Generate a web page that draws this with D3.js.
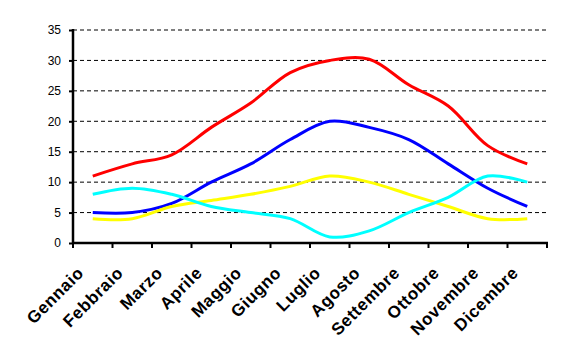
<!DOCTYPE html>
<html lang="it">
<head>
<meta charset="UTF-8">
<title>Temperature mensili</title>
<script src="https://cdn.jsdelivr.net/npm/d3@7"></script>
<style>
    body { margin: 0; background: #fff; }
    svg { display: block; font-family: "Liberation Sans", Arial, sans-serif; }
    .grid line { stroke: #000; stroke-width: 1px; stroke-dasharray: 4,3; }
    .ylab { font-size: 12px; }
    .xlab { font-size: 17px; font-weight: bold; letter-spacing: 0.6px; }
</style>
</head>
<body>
<div id="chart"></div>
<script>
    // data
    const months = ["Gennaio", "Febbraio", "Marzo", "Aprile", "Maggio", "Giugno",
                    "Luglio", "Agosto", "Settembre", "Ottobre", "Novembre", "Dicembre"];
    const redValues    = [11, 13, 14.5, 19, 23, 28, 30, 30.2, 26, 22.5, 16, 13];
    const blueValues   = [5, 5, 6.5, 10, 13, 17, 20, 19, 17, 13, 9, 6];
    const yellowValues = [4, 4, 6, 7, 8, 9.3, 11, 10, 8, 6, 4, 4];
    const cyanValues   = [8, 9, 8, 6, 5, 4, 1, 2, 5, 7.5, 11, 10];
    const yTicks = [0, 5, 10, 15, 20, 25, 30, 35];

    const series = [
        { values: redValues, color: "#ff0000" },
        { values: blueValues, color: "#0000ff" },
        { values: yellowValues, color: "#ffff00" },
        { values: cyanValues, color: "#00ffff" }
    ];

    const width = 563, height = 362;
    const plotLeft = 73, plotRight = 547, plotTop = 30, plotBottom = 243;

    const svg = d3.select("#chart").append("svg")
        .attr("width", width)
        .attr("height", height);

    const x = d3.scaleBand().domain(months).range([plotLeft, plotRight]);
    const y = d3.scaleLinear().domain([0, 35]).range([plotBottom, plotTop]);
    const cx = m => x(m) + x.bandwidth() / 2;

    // dashed gridlines
    svg.append("g").attr("class", "grid")
        .selectAll("line")
        .data(yTicks.filter(d => d > 0))
        .enter().append("line")
        .attr("x1", plotLeft).attr("x2", plotRight)
        .attr("y1", d => y(d)).attr("y2", d => y(d));

    // y axis
    const yAxis = svg.append("g")
        .attr("transform", `translate(${plotLeft},0)`)
        .call(d3.axisLeft(y).tickValues(yTicks).tickSize(4).tickPadding(8));
    yAxis.select(".domain").attr("stroke", "#000").attr("stroke-width", 2.5)
        .attr("d", `M0,${plotTop - 1}V${plotBottom + 1}`);
    yAxis.selectAll(".tick line").attr("stroke-width", 2);
    yAxis.selectAll(".tick text").attr("class", "ylab")
        .attr("fill", "#000");
    yAxis.attr("font-size", null).attr("font-family", null);

    // x axis with ticks at category boundaries
    const bounds = months.map(m => x(m)).concat([x.range()[1]]);
    const xg = svg.append("g");
    xg.append("line")
        .attr("x1", plotLeft - 1).attr("x2", plotRight + 1)
        .attr("y1", plotBottom).attr("y2", plotBottom)
        .attr("stroke", "#000").attr("stroke-width", 2.5);
    xg.selectAll(".xt")
        .data(bounds)
        .enter().append("line")
        .attr("class", "xt")
        .attr("x1", d => d).attr("x2", d => d)
        .attr("y1", plotBottom).attr("y2", plotBottom + 5)
        .attr("stroke", "#000").attr("stroke-width", 2);

    xg.selectAll(".xlab")
        .data(months)
        .enter().append("text")
        .attr("class", "xlab")
        .attr("text-anchor", "end")
        .attr("transform", d => `translate(${cx(d) - 8},${plotBottom + 31}) rotate(-45)`)
        .text(d => d);

    // smoothed lines
    const line = d3.line()
        .x((d, i) => cx(months[i]))
        .y(d => y(d))
        .curve(d3.curveCatmullRom);

    svg.selectAll(".series")
        .data(series)
        .enter().append("path")
        .attr("class", "series")
        .attr("fill", "none")
        .attr("stroke", d => d.color)
        .attr("stroke-width", 3)
        .attr("d", d => line(d.values));
</script>
</body>
</html>
